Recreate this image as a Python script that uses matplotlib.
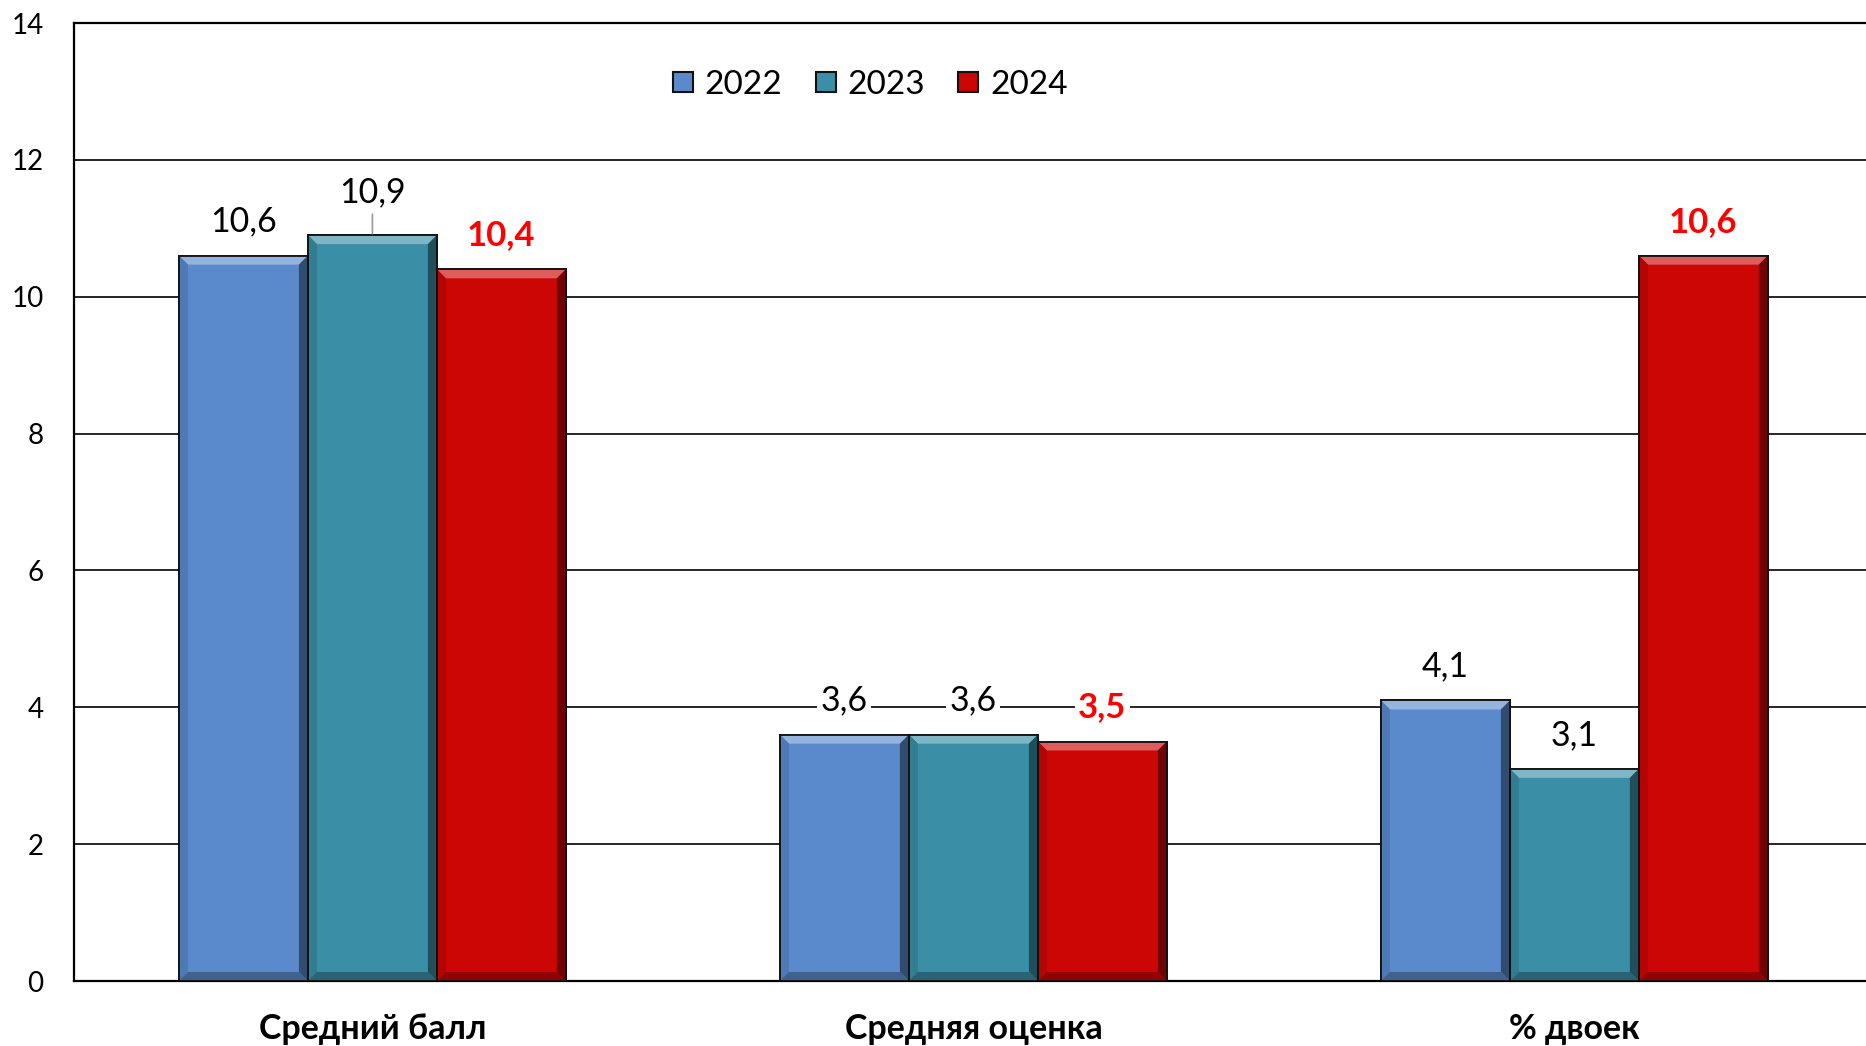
import matplotlib
matplotlib.use("Agg")
import matplotlib.pyplot as plt
from matplotlib.patches import Polygon, Rectangle
from matplotlib.lines import Line2D
import numpy as np

plt.rcParams['font.family'] = ['Lato', 'DejaVu Sans']

categories = ["Средний балл", "Средняя оценка", "% двоек"]
years = ["2022", "2023", "2024"]
v2022 = [10.6, 3.6, 4.1]
v2023 = [10.9, 3.6, 3.1]
v2024 = [10.4, 3.5, 10.6]
labels2022 = ["10,6", "3,6", "4,1"]
labels2023 = ["10,9", "3,6", "3,1"]
labels2024 = ["10,4", "3,5", "10,6"]
yticks = [0, 2, 4, 6, 8, 10, 12, 14]

colors = ["#5A8ACB", "#3A8EA6", "#CC0505"]
label_colors = ["black", "black", "#FF0000"]
label_weights = ["normal", "normal", "bold"]

W, H = 1866, 1046
fig = plt.figure(figsize=(W / 100, H / 100), dpi=100)
ax_left, ax_bottom = 74 / W, (H - 981) / H
ax_w, ax_h = 1803 / W, 958 / H
ax = fig.add_axes([ax_left, ax_bottom, ax_w, ax_h])

ax.set_xlim(-0.4965, 2.5035)
ax.set_ylim(0, 14)
ax.set_yticks(yticks)
ax.set_yticklabels([str(t) for t in yticks], fontsize=20)
ax.tick_params(axis='y', length=0, pad=22)
ax.set_xticks(range(len(categories)))
ax.set_xticklabels(categories, fontsize=24.5, fontweight='bold')
ax.tick_params(axis='x', length=0, pad=23)
ax.yaxis.grid(True, color='black', linewidth=1.2)
ax.set_axisbelow(True)
for s in ['left', 'top', 'bottom']:
    ax.spines[s].set_linewidth(1.6)
    ax.spines[s].set_color('black')
ax.spines['right'].set_visible(False)

bw = 0.2146
series = [v2022, v2023, v2024]
series_labels = [labels2022, labels2023, labels2024]
x = np.arange(len(categories))

px_x = (ax_w * W) / 3.0   # px per data unit x
px_y = (ax_h * H) / 14.0  # px per data unit y
bev = 9.0


def shade(c, f):
    import matplotlib.colors as mc
    r, g, b = mc.to_rgb(c)
    if f >= 0:
        return (r + (1 - r) * f, g + (1 - g) * f, b + (1 - b) * f)
    f = -f
    return (r * (1 - f), g * (1 - f), b * (1 - f))


for i, (vals, col) in enumerate(zip(series, colors)):
    offs = (i - 1) * bw
    bars = ax.bar(x + offs, vals, width=bw, color=col, edgecolor='#111111',
                  linewidth=1.3, zorder=2, label=years[i])
    for rect in bars:
        x0, w, h = rect.get_x(), rect.get_width(), rect.get_height()
        dx, dy = bev / px_x, bev / px_y
        x1, y1 = x0 + w, h
        top = Polygon([(x0, y1), (x1, y1), (x1 - dx, y1 - dy), (x0 + dx, y1 - dy)],
                      closed=True, facecolor=shade(col, 0.35), edgecolor='none', zorder=3)
        left = Polygon([(x0, 0), (x0, y1), (x0 + dx, y1 - dy), (x0 + dx, dy)],
                       closed=True, facecolor=shade(col, -0.12), edgecolor='none', zorder=3)
        right = Polygon([(x1, 0), (x1, y1), (x1 - dx, y1 - dy), (x1 - dx, dy)],
                        closed=True, facecolor=shade(col, -0.45), edgecolor='none', zorder=3)
        bot = Polygon([(x0, 0), (x1, 0), (x1 - dx, dy), (x0 + dx, dy)],
                      closed=True, facecolor=shade(col, -0.3), edgecolor='none', zorder=3)
        for p in (top, left, right, bot):
            ax.add_patch(p)
        ax.add_patch(Rectangle((x0, 0), w, h, facecolor='none', edgecolor='#111111',
                               linewidth=1.3, zorder=4))
    for j, (xv, v) in enumerate(zip(x + offs, vals)):
        lab = series_labels[i][j]
        fs = 25 if i == 2 else 24.5
        if i == 1 and j == 0:
            ax.annotate(lab, xy=(xv, v), xytext=(0, 31), textcoords='offset points',
                        ha='center', va='center', fontsize=fs, color=label_colors[i],
                        fontweight=label_weights[i], zorder=6,
                        bbox=dict(boxstyle='square,pad=0.1', fc='white', ec='none'),
                        arrowprops=dict(arrowstyle='-', color='#999999', lw=1.2,
                                        shrinkA=2, shrinkB=1))
        else:
            ax.annotate(lab, xy=(xv, v), xytext=(0, 24.5), textcoords='offset points',
                        ha='center', va='center', fontsize=fs, color=label_colors[i],
                        fontweight=label_weights[i], zorder=6,
                        bbox=dict(boxstyle='square,pad=0.1', fc='white', ec='none'))

handles = [Line2D([0], [0], marker='s', linestyle='none', markersize=15,
                  markerfacecolor=c, markeredgecolor='#111111', markeredgewidth=1.5)
           for c in colors]
fig.legend(handles, years, loc='center', bbox_to_anchor=(0.465, 0.919), ncol=3,
           frameon=False, fontsize=24, handletextpad=0.2, columnspacing=0.85,
           handlelength=0.9)

fig.savefig("out.png", dpi=100)
